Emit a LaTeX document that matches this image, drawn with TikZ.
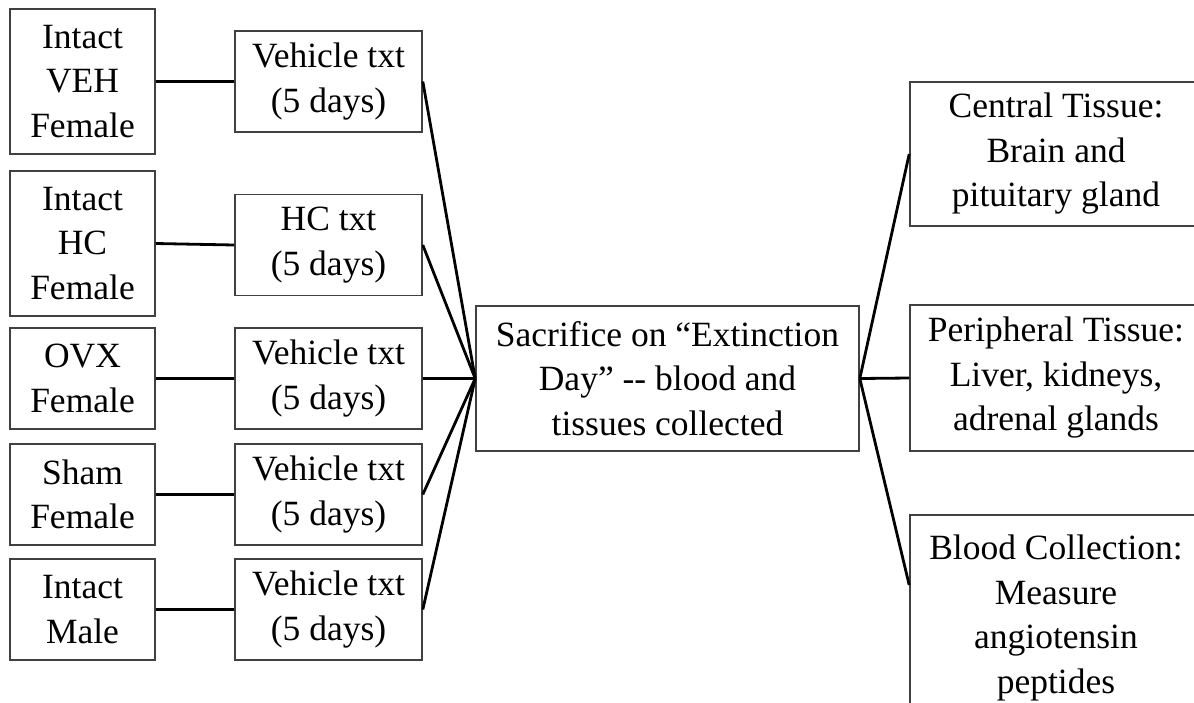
\documentclass[tikz,border=0pt]{standalone}
\usepackage{fontspec}
\setmainfont{Liberation Serif}
\tikzset{
  box/.style={draw=black!75, line width=1.6pt, align=center, inner sep=0pt,
    font=\fontsize{35.5}{44.5}\selectfont},
  link/.style={line width=2.8pt}
}

\begin{document}
\begin{tikzpicture}[x=1pt,y=-1pt]
    \useasboundingbox (0,0) rectangle (1194,702);
    \clip (0,0) rectangle (1194,702);

    % groups
    \node[box, minimum width=145pt, minimum height=145pt] (g1) at (82.5,81.5) {Intact\\VEH\\Female};
    \node[box, minimum width=145pt, minimum height=145pt] (g2) at (82.5,243.5) {Intact\\HC\\Female};
    \node[box, minimum width=145pt, minimum height=101pt] (g3) at (82.5,378.5) {OVX\\Female};
    \node[box, minimum width=145pt, minimum height=101pt] (g4) at (82.5,494.5) {Sham\\Female};
    \node[box, minimum width=145pt, minimum height=101pt] (g5) at (82.5,609.5) {Intact\\Male};

    % treatments
    \node[box, minimum width=187pt, minimum height=101pt] (t1) at (328.5,81.5) {Vehicle txt\\(5 days)};
    \node[box, minimum width=187pt, minimum height=101pt] (t2) at (328.5,245) {HC txt\\(5 days)};
    \node[box, minimum width=187pt, minimum height=101pt] (t3) at (328.5,378.5) {Vehicle txt\\(5 days)};
    \node[box, minimum width=187pt, minimum height=101pt] (t4) at (328.5,494.5) {Vehicle txt\\(5 days)};
    \node[box, minimum width=187pt, minimum height=101pt] (t5) at (328.5,609.5) {Vehicle txt\\(5 days)};

    \node[box, minimum width=383pt, minimum height=145pt] (sac) at (667.5,378.5)
      {Sacrifice on “Extinction\\Day” -\kern0pt- blood and\\tissues collected};

    % tissues
    \node[box, minimum width=292pt, minimum height=144pt] (c1) at (1056,154) {Central Tissue:\\Brain and\\pituitary gland};
    \node[box, minimum width=292pt, minimum height=146pt] (c2) at (1056,378) {Peripheral Tissue:\\Liver, kidneys,\\adrenal glands};
    \node[box, minimum width=292pt, minimum height=206pt] (c3) at (1056,618) {Blood Collection:\\Measure\\angiotensin\\peptides};

    \foreach \i in {1,...,5} {
      \draw[link] (g\i.east) -- (t\i.west);
      \draw[link] (t\i.east) -- (sac.west);
    }
    \draw[link] (sac.east) -- (c1.west);
    \draw[link] (sac.east) -- (c2.west);
    \draw[link] (sac.east) -- ([yshift=33pt]c3.west);
\end{tikzpicture}
\end{document}
